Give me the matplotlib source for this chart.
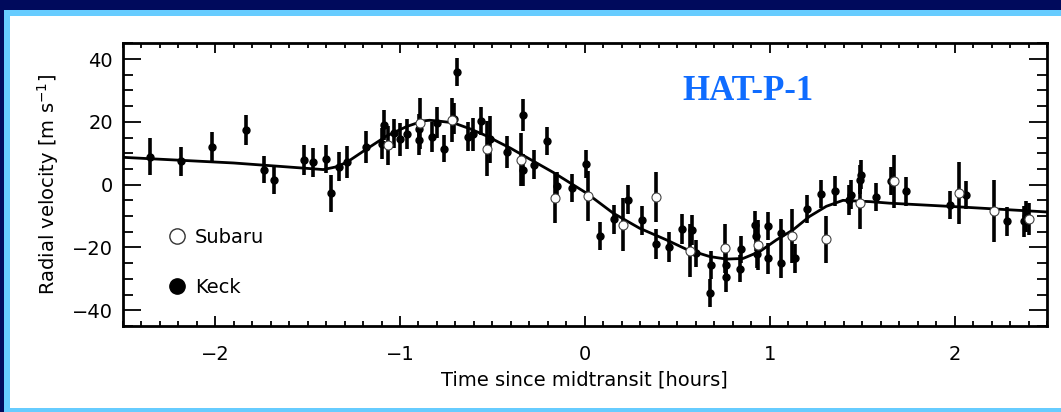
import matplotlib
matplotlib.use("Agg")
import matplotlib.pyplot as plt
from matplotlib.lines import Line2D
from matplotlib.patches import Rectangle
from matplotlib.ticker import MultipleLocator

# Keck velocities: time [h], RV [m/s], 1-sigma error
keck_t = [-2.351, -2.185, -2.016, -1.831, -1.735, -1.681, -1.519, -1.472, -1.400, -1.375,
          -1.328, -1.288, -1.184, -1.086, -1.097, -1.032, -1.000, -0.964, -0.896, -0.896,
          -0.827, -0.798, -0.760, -0.708, -0.694, -0.631, -0.607, -0.562, -0.514, -0.423,
          -0.337, -0.337, -0.276, -0.204, -0.150, -0.067, 0.005, 0.081, 0.157, 0.231,
          0.310, 0.384, 0.456, 0.528, 0.582, 0.600, 0.685, 0.679, 0.762, 0.762,
          0.838, 0.843, 0.919, 0.924, 0.930, 0.991, 0.991, 1.063, 1.063, 1.135,
          1.202, 1.279, 1.355, 1.429, 1.441, 1.495, 1.490, 1.573, 1.658, 1.739,
          1.973, 2.063, 2.283, 2.373, 2.388]
keck_rv = [8.9, 7.5, 11.9, 17.3, 4.8, 1.5, 7.9, 7.1, 8.2, -2.8,
           5.7, 7.1, 12.1, 18.9, 13.1, 16.3, 14.4, 16.0, 17.6, 14.2,
           15.3, 19.7, 11.5, 21.0, 35.9, 15.3, 16.0, 20.3, 14.4, 10.4,
           22.2, 4.8, 6.4, 13.9, -0.5, -1.1, 6.6, -16.3, -11.0, -4.8,
           -11.4, -18.9, -19.9, -14.2, -14.4, -21.9, -25.6, -34.5, -25.6, -29.3,
           -26.7, -20.6, -12.8, -16.5, -22.0, -13.1, -23.5, -15.5, -24.9, -23.5,
           -7.8, -2.9, -2.1, -4.8, -3.2, 3.2, 1.6, -3.9, 1.1, -2.1,
           -6.4, -3.2, -11.7, -11.7, -10.1]
keck_err = [5.8, 4.6, 4.8, 4.8, 4.3, 4.6, 4.8, 4.6, 4.4, 5.8,
            4.6, 5.1, 5.1, 4.8, 4.8, 4.6, 5.3, 4.8, 4.8, 4.8,
            4.8, 5.0, 4.4, 5.0, 4.4, 4.5, 5.2, 4.5, 7.5, 5.0,
            5.0, 5.1, 4.5, 4.6, 4.5, 4.5, 4.4, 4.5, 4.6, 4.7,
            4.6, 4.7, 4.7, 4.7, 4.8, 4.3, 4.5, 4.6, 4.9, 4.8,
            4.3, 4.4, 4.5, 4.5, 4.5, 4.4, 4.8, 4.7, 4.8, 4.5,
            4.5, 4.5, 4.7, 4.8, 4.6, 4.5, 4.5, 4.4, 4.4, 4.6,
            4.5, 4.4, 4.7, 5.0, 5.0]

# Subaru velocities
subaru_t = [-1.066, -0.890, -0.720, -0.531, -0.348, -0.162, 0.018, 0.207, 0.384, 0.571,
            0.757, 0.937, 1.121, 1.303, 1.486, 1.670, 2.024, 2.216, 2.402]
subaru_rv = [12.5, 19.5, 20.5, 11.4, 8.0, -4.3, -3.5, -12.8, -3.9, -21.0,
             -20.3, -19.2, -16.3, -17.4, -5.7, 1.1, -2.7, -8.3, -11.0]
subaru_err = [6.3, 8.0, 7.0, 8.8, 8.4, 8.0, 8.0, 8.4, 7.9, 8.4,
              7.9, 8.0, 8.5, 7.5, 8.5, 8.4, 9.8, 9.9, 5.0]

# best-fit Rossiter-McLaughlin model
model_t = [-2.5, -1.9, -1.415, -1.35, -1.288, -1.184, -1.072, -0.964, -0.874, -0.84,
           -0.802, -0.712, -0.622, -0.531, -0.459, -0.405, -0.279, -0.171, 0.009, 0.154,
           0.297, 0.442, 0.55, 0.676, 0.766, 0.856, 0.946, 1.036, 1.126, 1.216,
           1.306, 1.396, 1.468, 1.541, 1.649, 2.0, 2.5]
model_rv = [8.7, 6.9, 4.8, 5.6, 7.1, 11.2, 15.5, 18.5, 20.3, 20.5,
            20.3, 19.7, 17.8, 15.5, 13.3, 11.7, 7.5, 3.9, -2.7, -9.1,
            -13.9, -17.6, -20.6, -22.9, -23.7, -23.5, -21.3, -17.6, -14.4, -10.1,
            -6.9, -5.0, -5.2, -5.4, -5.9, -7.0, -8.7]

W, H = 1061, 412
fig = plt.figure(figsize=(W / 100, H / 100), dpi=100, facecolor="#000a5c")

# slide frame: light blue border around a white panel
fig.add_artist(Rectangle((4 / W, 0), 1 - 4 / W, 1 - 10 / H, transform=fig.transFigure,
                         facecolor="#66ccff", edgecolor="none", zorder=-3))
fig.add_artist(Rectangle((10 / W, 4 / H), 1 - 10 / W, 1 - 20 / H, transform=fig.transFigure,
                         facecolor="white", edgecolor="none", zorder=-2))

ax = fig.add_axes([122.7 / W, 1 - 326 / H, (1047 - 122.7) / W, (326 - 43.3) / H])
ax.set_facecolor("white")

ax.plot(model_t, model_rv, color="black", lw=2.0, zorder=2)

ax.errorbar(keck_t, keck_rv, yerr=keck_err, fmt="o", color="black", ms=5,
            elinewidth=2.6, capsize=0, zorder=3)
ax.errorbar(subaru_t, subaru_rv, yerr=subaru_err, fmt="none", ecolor="black",
            elinewidth=2.6, capsize=0, zorder=3)
ax.plot(subaru_t, subaru_rv, "o", ms=6.5, mfc="white", mec="#444444", mew=0.8, zorder=4)

ax.set_xlim(-2.5, 2.5)
ax.set_ylim(-45, 45)
ax.xaxis.set_major_locator(MultipleLocator(1))
ax.xaxis.set_minor_locator(MultipleLocator(0.1))
ax.yaxis.set_major_locator(MultipleLocator(20))
ax.yaxis.set_minor_locator(MultipleLocator(5))

ax.tick_params(axis="x", which="both", direction="in", top=True, width=1.3,
               labelsize=14, pad=14)
ax.tick_params(axis="x", which="major", length=7)
ax.tick_params(axis="x", which="minor", length=3.5)
ax.tick_params(axis="y", which="both", direction="in", right=True, width=1.3,
               labelsize=14, pad=7)
ax.tick_params(axis="y", which="major", length=13)
ax.tick_params(axis="y", which="minor", length=7)
for s in ax.spines.values():
    s.set_linewidth(2)

ax.xaxis.set_major_formatter(plt.FuncFormatter(lambda v, p: f"{v:.0f}".replace("-", "\u2212")))
ax.set_xlabel("Time since midtransit [hours]", fontsize=14, labelpad=4)
ax.set_ylabel("Radial velocity [m s$^{-1}$]", fontsize=14, labelpad=8)

handles = [Line2D([], [], ls="none", marker="o", ms=11, mfc="white", mec="#333333", mew=1),
           Line2D([], [], ls="none", marker="o", ms=11, mfc="black", mec="black")]
ax.legend(handles, ["Subaru", "Keck"], loc="center left", bbox_to_anchor=(0.040, 0.225),
          frameon=False, fontsize=14, handlelength=1.0, handletextpad=0.4,
          labelspacing=1.6, borderaxespad=0)

ax.text(0.605, 0.83, "HAT-P-1", transform=ax.transAxes, fontsize=25, fontweight="bold",
        family="Liberation Serif", color="#0f6cff", ha="left", va="center")

fig.savefig("out.png", dpi=100, facecolor=fig.get_facecolor())
